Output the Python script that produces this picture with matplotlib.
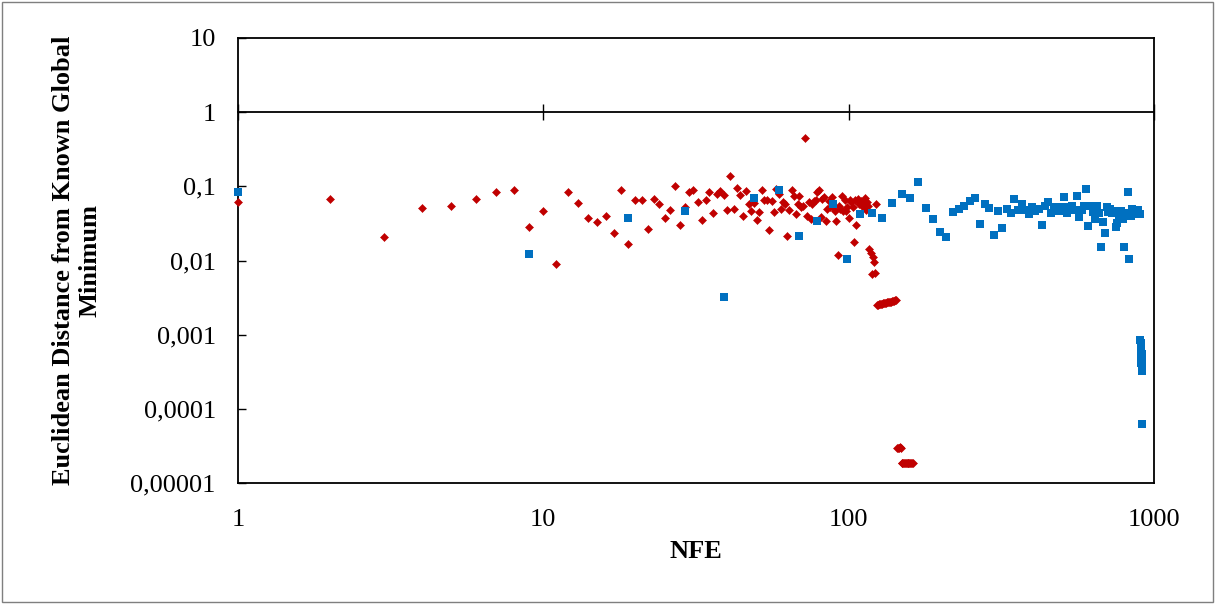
import matplotlib
matplotlib.use("Agg")
import matplotlib.pyplot as plt
from matplotlib.ticker import FixedLocator, FuncFormatter, NullLocator
from matplotlib.patches import Rectangle

plt.rcParams["font.family"] = ["Liberation Serif", "DejaVu Serif"]

# Series 1: one evaluation per NFE (red diamonds)
red_nfe = list(range(1, 163))
red_dist = [
    0.061, 0.067, 0.0207, 0.0515, 0.0537, 0.068, 0.084, 0.090, 0.0285, 0.046,
    0.0091, 0.085, 0.0595, 0.037, 0.0326, 0.040, 0.0238, 0.088, 0.0167, 0.0655,
    0.0645, 0.0267, 0.068, 0.0585, 0.037, 0.048, 0.100, 0.030, 0.053, 0.083,
    0.088, 0.062, 0.0355, 0.0655, 0.083, 0.0435, 0.078, 0.086, 0.077, 0.048,
    0.138, 0.050, 0.096, 0.076, 0.040, 0.086, 0.057, 0.047, 0.060, 0.035,
    0.045, 0.089, 0.0655, 0.0655, 0.026, 0.064, 0.045, 0.093, 0.080, 0.050,
    0.061, 0.057, 0.0216, 0.048, 0.088, 0.075, 0.043, 0.057, 0.075, 0.053,
    0.054, 0.455, 0.040, 0.061, 0.036, 0.058, 0.063, 0.066, 0.084, 0.089,
    0.038, 0.068, 0.071, 0.034, 0.049, 0.063, 0.053, 0.072, 0.053, 0.046,
    0.034, 0.012, 0.055, 0.049, 0.075, 0.046, 0.066, 0.046, 0.053, 0.037,
    0.066, 0.061, 0.053, 0.018, 0.066, 0.030, 0.067, 0.057, 0.061, 0.063,
    0.053, 0.059, 0.070, 0.048, 0.062, 0.055, 0.0141, 0.0125, 0.0066, 0.0112,
    0.0095, 0.0068, 0.058,
    0.00252, 0.00254, 0.00256, 0.00258, 0.0026, 0.00262, 0.00264, 0.00266,
    0.00268, 0.0027, 0.00272, 0.00274, 0.00276, 0.00278, 0.0028, 0.00282,
    0.00285, 0.00287, 0.00289, 0.00292,
    3.0e-5, 2.98e-5, 3.0e-5, 3.02e-5, 3.0e-5,
    1.85e-5, 1.85e-5, 1.85e-5, 1.85e-5, 1.85e-5, 1.85e-5, 1.85e-5,
    1.85e-5, 1.85e-5, 1.85e-5, 1.85e-5, 1.85e-5, 1.85e-5, 1.85e-5,
]

# Series 2: sampled every 10 NFE, then a final refinement burst (blue squares)
blue_nfe = [1] + list(range(9, 900, 10)) + list(range(903, 917))
blue_dist = [
    0.085, 0.0123, 0.0376, 0.047, 0.0032, 0.070, 0.088, 0.0216, 0.0342, 0.0585,
    0.0106, 0.042, 0.044, 0.0376, 0.0605, 0.078, 0.070, 0.116, 0.0515, 0.0366,
    0.0245, 0.0209, 0.0455, 0.050, 0.0537, 0.0626, 0.069, 0.0315, 0.0585, 0.0515,
    0.0223, 0.047, 0.0277, 0.050, 0.044, 0.067, 0.048, 0.058, 0.048, 0.042,
    0.053, 0.046, 0.050, 0.030, 0.055, 0.062, 0.044, 0.052, 0.050, 0.046,
    0.052, 0.072, 0.044, 0.052, 0.055, 0.048, 0.075, 0.038, 0.048, 0.054,
    0.091, 0.029, 0.054, 0.045, 0.036, 0.054, 0.044, 0.0152, 0.033, 0.0237,
    0.052, 0.045, 0.050, 0.044, 0.046, 0.028, 0.032, 0.036, 0.047, 0.036,
    0.0152, 0.044, 0.085, 0.0106, 0.040, 0.050, 0.045, 0.043, 0.046, 0.048,
    0.042,
    0.00085, 0.00078, 0.0007, 0.00062, 0.00055, 0.0005, 0.00046, 0.00042,
    0.00038, 0.00035, 0.00032, 0.00055, 0.00048, 6.2e-5,
]

x_ticks = [1, 10, 100, 1000]
x_tick_labels = ["1", "10", "100", "1000"]
y_ticks = [1e-5, 1e-4, 1e-3, 1e-2, 1e-1, 1, 10]
y_tick_labels = ["0,00001", "0,0001", "0,001", "0,01", "0,1", "1", "10"]

W, H = 1215, 604
fig = plt.figure(figsize=(W / 100, H / 100), dpi=100)
ax = fig.add_axes([238 / W, 1 - 483 / H, (1154 - 238) / W, (483 - 38) / H])

ax.plot(red_nfe, red_dist, linestyle="none", marker="D", markersize=4.2,
        color="#C00000", markeredgewidth=0.4, zorder=3, clip_on=False)
ax.plot(blue_nfe, blue_dist, linestyle="none", marker="s", markersize=6.4,
        color="#0070C0", markeredgewidth=0, zorder=4, clip_on=False)

ax.set_xscale("log")
ax.set_yscale("log")
ax.set_xlim(1, 1000)
ax.set_ylim(1e-5, 10)

ax.xaxis.set_major_locator(FixedLocator(x_ticks))
ax.xaxis.set_minor_locator(NullLocator())
ax.xaxis.set_major_formatter(FuncFormatter(lambda v, p: x_tick_labels[x_ticks.index(min(x_ticks, key=lambda t: abs(t - v)))]))
ax.yaxis.set_major_locator(FixedLocator(y_ticks))
ax.yaxis.set_minor_locator(NullLocator())
ax.yaxis.set_major_formatter(FuncFormatter(lambda v, p: y_tick_labels[y_ticks.index(min(y_ticks, key=lambda t: abs(t / v - 1)))]))

ax.tick_params(axis="x", length=0, pad=19, labelsize=19)
ax.tick_params(axis="y", direction="in", length=6, width=1, pad=16, labelsize=19)

for s in ax.spines.values():
    s.set_linewidth(1.3)
    s.set_color("black")

# Horizontal axis crossing at y = 1 with cross ticks
cross = ax.secondary_xaxis(5 / 6)
cross.xaxis.set_major_locator(FixedLocator(x_ticks))
cross.xaxis.set_minor_locator(NullLocator())
cross.tick_params(axis="x", direction="inout", length=12, width=1, labeltop=False, labelbottom=False)
cross.spines["top"].set_linewidth(1.3)
cross.spines["bottom"].set_visible(False)

ax.set_xlabel("NFE", fontsize=19, fontweight="bold")
ax.xaxis.set_label_coords(0.5, -0.155)
ax.xaxis.label.set_va("center")
ax.set_ylabel("Euclidean Distance from Known Global\nMinimum", fontsize=19,
              fontweight="bold", multialignment="center", linespacing=1.2)
ax.yaxis.set_label_coords(-0.176, 0.5)
ax.yaxis.label.set_va("center")

fig.patches.append(Rectangle((2 / W, 2 / H), 1 - 4 / W, 1 - 4 / H, transform=fig.transFigure,
                             fill=False, edgecolor="#7f7f7f", linewidth=1.0))

fig.savefig("out.png", dpi=100)
